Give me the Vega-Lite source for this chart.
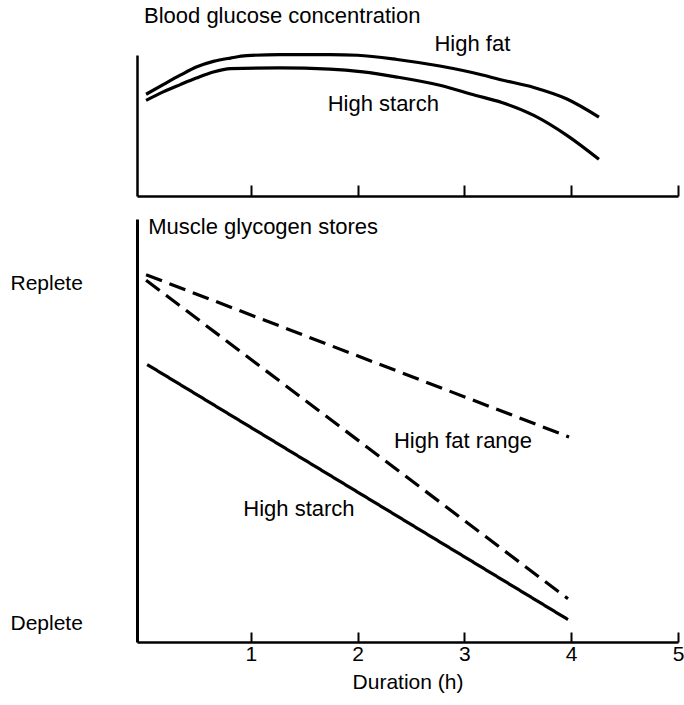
{
  "$schema": "https://vega.github.io/schema/vega-lite/v6.json",
  "padding": {"left": 10, "top": 4, "right": 0, "bottom": 5},
  "autosize": {"type": "pad"},
  "background": "white",
  "bounds": "flush",
  "spacing": 23,
  "config": {
    "font": "Liberation Sans",
    "view": {"stroke": null},
    "axis": {"domainColor": "black", "tickColor": "black", "labelColor": "black", "titleColor": "black", "grid": false, "labelFont": "Liberation Sans", "titleFont": "Liberation Sans"}
  },
  "datasets": {
    "glucose": [
      {"diet": "High fat", "hours": 0.02, "glucose": 4.33},
      {"diet": "High fat", "hours": 0.18, "glucose": 4.74},
      {"diet": "High fat", "hours": 0.34, "glucose": 5.14},
      {"diet": "High fat", "hours": 0.49, "glucose": 5.49},
      {"diet": "High fat", "hours": 0.65, "glucose": 5.73},
      {"diet": "High fat", "hours": 0.81, "glucose": 5.87},
      {"diet": "High fat", "hours": 0.96, "glucose": 5.97},
      {"diet": "High fat", "hours": 1.27, "glucose": 6.02},
      {"diet": "High fat", "hours": 1.74, "glucose": 6.02},
      {"diet": "High fat", "hours": 2.0, "glucose": 5.99},
      {"diet": "High fat", "hours": 2.37, "glucose": 5.81},
      {"diet": "High fat", "hours": 2.77, "glucose": 5.53},
      {"diet": "High fat", "hours": 3.15, "glucose": 5.17},
      {"diet": "High fat", "hours": 3.33, "glucose": 4.96},
      {"diet": "High fat", "hours": 3.65, "glucose": 4.62},
      {"diet": "High fat", "hours": 3.96, "glucose": 4.13},
      {"diet": "High fat", "hours": 4.26, "glucose": 3.36},
      {"diet": "High starch", "hours": 0.02, "glucose": 4.07},
      {"diet": "High starch", "hours": 0.18, "glucose": 4.43},
      {"diet": "High starch", "hours": 0.34, "glucose": 4.74},
      {"diet": "High starch", "hours": 0.49, "glucose": 5.02},
      {"diet": "High starch", "hours": 0.65, "glucose": 5.28},
      {"diet": "High starch", "hours": 0.81, "glucose": 5.42},
      {"diet": "High starch", "hours": 1.27, "glucose": 5.45},
      {"diet": "High starch", "hours": 1.74, "glucose": 5.40},
      {"diet": "High starch", "hours": 2.05, "glucose": 5.28},
      {"diet": "High starch", "hours": 2.37, "glucose": 5.06},
      {"diet": "High starch", "hours": 2.77, "glucose": 4.71},
      {"diet": "High starch", "hours": 3.10, "glucose": 4.29},
      {"diet": "High starch", "hours": 3.35, "glucose": 3.98},
      {"diet": "High starch", "hours": 3.65, "glucose": 3.43},
      {"diet": "High starch", "hours": 3.96, "glucose": 2.58},
      {"diet": "High starch", "hours": 4.26, "glucose": 1.56}
    ],
    "glucoseLabels": [
      {"label": "High fat", "hours": 2.72, "glucose": 6.47},
      {"label": "High starch", "hours": 1.72, "glucose": 3.92}
    ],
    "glycogen": [
      {"series": "High fat (upper)", "hours": 0.02, "level": 1.027},
      {"series": "High fat (upper)", "hours": 3.98, "level": 0.55},
      {"series": "High fat (lower)", "hours": 0.02, "level": 1.011},
      {"series": "High fat (lower)", "hours": 3.97, "level": 0.074},
      {"series": "High starch", "hours": 0.03, "level": 0.763},
      {"series": "High starch", "hours": 3.97, "level": 0.013}
    ],
    "glycogenLabels": [
      {"label": "Muscle glycogen stores", "hours": 0.04, "level": 1.168},
      {"label": "High fat range", "hours": 2.34, "level": 0.538},
      {"label": "High starch", "hours": 0.93, "level": 0.338}
    ]
  },
  "vconcat": [
    {
      "width": 541,
      "height": 141,
      "title": {"text": "Blood glucose concentration", "anchor": "start", "frame": "group", "dx": 7, "fontSize": 22, "fontWeight": "normal", "offset": 5, "color": "black", "font": "Liberation Sans"},
      "layer": [
        {
          "data": {"name": "glucose"},
          "mark": {"type": "line", "interpolate": "monotone", "strokeWidth": 3.2, "color": "black"},
          "encoding": {
            "x": {"field": "hours", "type": "quantitative", "scale": {"domain": [-0.065, 5], "nice": false, "zero": false},
                  "axis": {"values": [1, 2, 3, 4, 5], "tickSize": -11, "tickWidth": 2, "labels": false, "title": null, "domainWidth": 2.5}},
            "y": {"field": "glucose", "type": "quantitative", "scale": {"domain": [0, 6], "nice": false, "zero": false},
                  "axis": {"ticks": false, "labels": false, "title": null, "domainWidth": 2.5, "minExtent": 127, "maxExtent": 127}},
            "detail": {"field": "diet"}
          }
        },
        {
          "data": {"name": "glucoseLabels"},
          "mark": {"type": "text", "align": "left", "baseline": "middle", "fontSize": 22, "color": "black"},
          "encoding": {
            "x": {"field": "hours", "type": "quantitative"},
            "y": {"field": "glucose", "type": "quantitative"},
            "text": {"field": "label"}
          }
        }
      ]
    },
    {
      "width": 541,
      "height": 423,
      "layer": [
        {
          "data": {"name": "glycogen"},
          "mark": {"type": "line", "strokeWidth": 3.2, "color": "black"},
          "encoding": {
            "x": {"field": "hours", "type": "quantitative", "scale": {"domain": [-0.065, 5], "nice": false, "zero": false},
                  "axis": {"values": [1, 2, 3, 4, 5], "format": "d", "tickSize": -10, "tickWidth": 2, "domainWidth": 2.5, "labelFontSize": 21, "labelPadding": 11, "labelFlush": false, "labelOverlap": false, "title": "Duration (h)", "titleFontSize": 21, "titleFontWeight": "normal", "titlePadding": 7}},
            "y": {"field": "level", "type": "quantitative", "scale": {"domain": [-0.053, 1.191], "nice": false, "zero": false},
                  "axis": {"values": [0, 1], "labelExpr": "datum.value == 1 ? 'Replete' : 'Deplete'", "ticks": false, "tickSize": 0, "labelAlign": "left", "labelBaseline": "middle", "labelPadding": 127, "labelFontSize": 21, "labelFlush": false, "domainWidth": 3, "title": null, "minExtent": 127, "maxExtent": 127}},
            "strokeDash": {"field": "series", "type": "nominal", "scale": {"domain": ["High fat (upper)", "High fat (lower)", "High starch"], "range": [[17, 8], [17, 8], [1, 0]]}, "legend": null}
          }
        },
        {
          "data": {"name": "glycogenLabels"},
          "mark": {"type": "text", "align": "left", "baseline": "middle", "fontSize": 22, "color": "black"},
          "encoding": {
            "x": {"field": "hours", "type": "quantitative"},
            "y": {"field": "level", "type": "quantitative"},
            "text": {"field": "label"}
          }
        }
      ]
    }
  ]
}
